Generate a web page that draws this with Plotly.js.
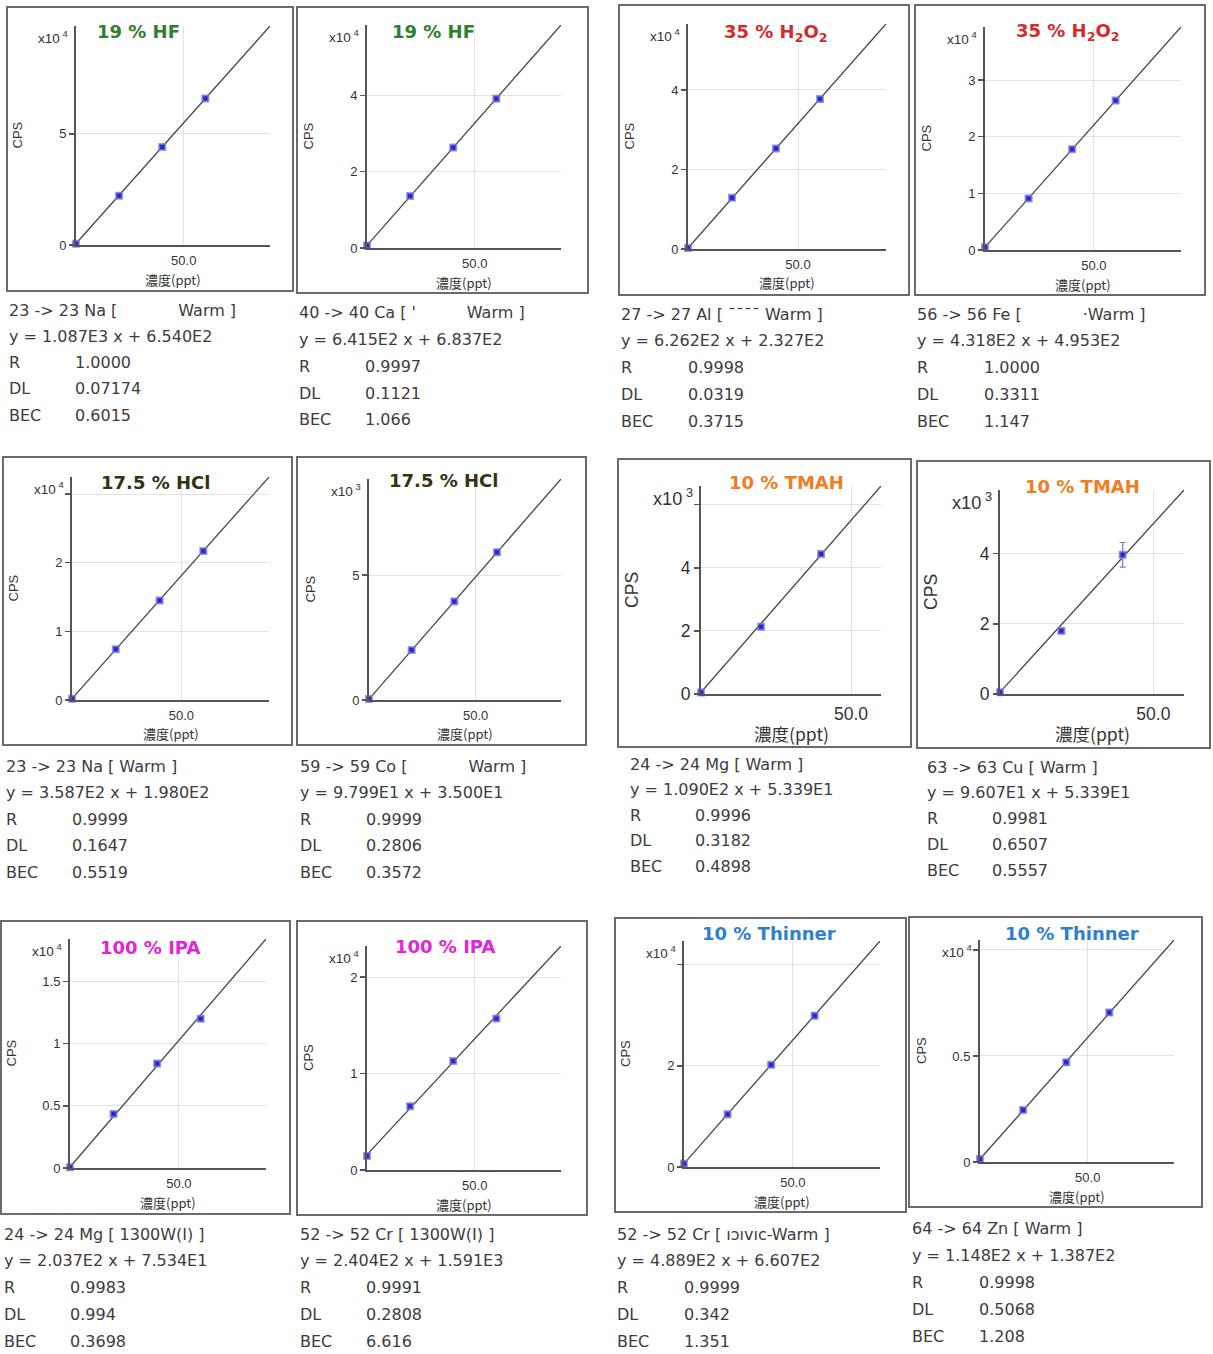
<!DOCTYPE html>
<html><head><meta charset="utf-8">
<script src="https://cdn.plot.ly/plotly-3.0.1.min.js"></script>
<style>html,body{margin:0;padding:0;background:#fff;} #chart{width:1213px;height:1354px;}</style>
</head><body><div id="chart"></div><script>
// ---------------- DATA ----------------
const concentration = [0, 20, 40, 60];          // ppt
const concentrationTMAH = [0, 20, 40];          // ppt
const matrixLabels = ['19 % HF','19 % HF','35 % H<sub>2</sub>O<sub>2</sub>','35 % H<sub>2</sub>O<sub>2</sub>',
  '17.5 % HCl','17.5 % HCl','10 % TMAH','10 % TMAH','100 % IPA','100 % IPA','10 % Thinner','10 % Thinner'];
const isotopeLabels = ['23 -> 23 Na [            Warm ]', "40 -> 40 Ca [ '          Warm ]", '27 -> 27 Al [ ¯¯¯¯ Warm ]',
  '56 -> 56 Fe [            ·Warm ]', '23 -> 23 Na [ Warm ]', '59 -> 59 Co [            Warm ]',
  '24 -> 24 Mg [ Warm ]', '63 -> 63 Cu [ Warm ]', '24 -> 24 Mg [ 1300W(I) ]', '52 -> 52 Cr [ 1300W(I) ]',
  '52 -> 52 Cr [ ıɔıvıc-Warm ]', '64 -> 64 Zn [ Warm ]'];
const fitEquations = ['y = 1.087E3 x + 6.540E2','y = 6.415E2 x + 6.837E2','y = 6.262E2 x + 2.327E2','y = 4.318E2 x + 4.953E2',
  'y = 3.587E2 x + 1.980E2','y = 9.799E1 x + 3.500E1','y = 1.090E2 x + 5.339E1','y = 9.607E1 x + 5.339E1',
  'y = 2.037E2 x + 7.534E1','y = 2.404E2 x + 1.591E3','y = 4.889E2 x + 6.607E2','y = 1.148E2 x + 1.387E2'];
const fitSlope = [1087, 641.5, 626.2, 431.8, 358.7, 97.99, 109.0, 96.07, 203.7, 240.4, 488.9, 114.8];
const fitIntercept = [654.0, 683.7, 232.7, 495.3, 198.0, 35.0, 53.39, 53.39, 75.34, 1591, 660.7, 138.7];
const rValues = ['1.0000','0.9997','0.9998','1.0000','0.9999','0.9999','0.9996','0.9981','0.9983','0.9991','0.9999','0.9998'];
const dlValues = ['0.07174','0.1121','0.0319','0.3311','0.1647','0.2806','0.3182','0.6507','0.994','0.2808','0.342','0.5068'];
const becValues = ['0.6015','1.066','0.3715','1.147','0.5519','0.3572','0.4898','0.5557','0.3698','6.616','1.351','1.208'];
const xAxisMax = [90, 90, 90, 90, 90, 90, 60, 60, 90, 90, 90, 90];
const yExponent = [4, 4, 4, 4, 4, 3, 3, 3, 4, 4, 4, 4];
const yTickValues = [[0,5],[0,2,4],[0,2,4],[0,1,2,3],[0,1,2,3],[0,5],[0,2,4,6],[0,2,4],[0,0.5,1,1.5],[0,1,2],[0,2,4],[0,0.5,1]];
const yTickLabels = [['0','5'],['0','2','4'],['0','2','4'],['0','1','2','3'],['0','1','2',' '],['0','5'],['0','2','4',' '],
  ['0','2','4'],['0','0.5','1','1.5'],['0','1','2'],['0','2',' '],['0','0.5',' ']];
// measured CPS per panel
const cpsNaHF   = [600, 22200, 44100, 65900];
const cpsCaHF   = [680, 13600, 26300, 39100];
const cpsAlH2O2 = [230, 12900, 25300, 37700];
const cpsFeH2O2 = [500, 9100, 17800, 26400];
const cpsNaHCl  = [200, 7400, 14500, 21700];
const cpsCoHCl  = [40, 2000, 3950, 5920];
const cpsMgTMAH = [50, 2130, 4440];
const cpsCuTMAH = [50, 1800, 3970];
const cpsMgIPA  = [60, 4350, 8400, 12000];
const cpsCrIPA  = [1460, 6600, 11300, 15700];
const cpsCrThin = [660, 10400, 20200, 29900];
const cpsZnThin = [140, 2450, 4700, 7050];
// standard deviations (error bars)
const sdNaHF   = [300, 500, 600, 700];
const sdCaHF   = [300, 400, 500, 500];
const sdAlH2O2 = [200, 400, 400, 500];
const sdFeH2O2 = [150, 300, 300, 350];
const sdNaHCl  = [100, 200, 250, 250];
const sdCoHCl  = [40, 90, 100, 100];
const sdMgTMAH = [30, 60, 80];
const sdCuTMAH = [30, 60, 350];
const sdMgIPA  = [50, 120, 150, 150];
const sdCrIPA  = [100, 150, 200, 200];
const sdCrThin = [300, 500, 500, 600];
const sdZnThin = [60, 100, 120, 130];

const panelCps = [cpsNaHF, cpsCaHF, cpsAlH2O2, cpsFeH2O2, cpsNaHCl, cpsCoHCl, cpsMgTMAH, cpsCuTMAH, cpsMgIPA, cpsCrIPA, cpsCrThin, cpsZnThin];
const panelSd  = [sdNaHF, sdCaHF, sdAlH2O2, sdFeH2O2, sdNaHCl, sdCoHCl, sdMgTMAH, sdCuTMAH, sdMgIPA, sdCrIPA, sdCrThin, sdZnThin];
const panelConc = [concentration, concentration, concentration, concentration, concentration, concentration,
  concentrationTMAH, concentrationTMAH, concentration, concentration, concentration, concentration];

// ---------------- GEOMETRY / STYLE ----------------
const W = 1213, H = 1354;
// plot area [left, right, top, bottom] in px
const plotBoxes = [[76,270,26,245],[367,561,25,248],[688,886,24,249],[985,1181,27,250],
  [72,269,477,700],[369,561,479,700],[701,881,486,694],[1000,1184,490,694],
  [70,266,939,1168],[367,561,946,1170],[684,880,941,1167],[980,1174,940,1162]];
// frames [x0,y0,x1,y1]
const frames = [[7,7,293,291],[297,7,588,293],[619,5,909,295],[915,5,1205,295],
  [3,457,292,745],[297,457,586,745],[618,459,911,747],[917,461,1210,748],
  [1,921,290,1214],[297,921,587,1215],[615,918,906,1212],[909,917,1202,1207]];
const titlePos = [[138,32],[433,32],[776,33],[1068,32],[155,483],[443,481],[786,483],[1082,486],[150,947],[445,946],[769,933],[1072,933]];
// text block [x, valueX, firstY, step]
const textPos = [[9,75,310,26.25],[299,365,313,26.75],[621,688,314,26.75],[917,984,314,26.75],
  [6,72,766,26.5],[300,366,766,26.5],[630,695,764,25.5],[927,992,767,25.75],
  [4,70,1234,26.75],[300,366,1234,26.75],[617,684,1234,26.75],[912,979,1228,27]];
const titleColors = ['#2f7d2f','#2f7d2f','#d42a2a','#d42a2a','#333314','#333314','#f07d22','#f07d22','#e026d6','#e026d6','#2f7fcf','#2f7fcf'];
const bigScale = [1,1,1,1,1,1,1.35,1.35,1,1,1,1];

const X = p => p / W, Y = p => 1 - p / H;
const traces = [], annotations = [], shapes = [];
const layout = {width: W, height: H, margin: {l:0, r:0, t:0, b:0}, showlegend: false,
  paper_bgcolor: '#fff', plot_bgcolor: '#fff', annotations, shapes};
const tickFont = 'Liberation Sans Narrow, Liberation Sans, sans-serif';
const bodyFont = 'DejaVu Sans, Verdana, sans-serif';

for (let i = 0; i < 12; i++) {
  const n = i + 1, xa = 'x' + n, ya = 'y' + n;
  const [L, R, T, B] = plotBoxes[i];
  const s = bigScale[i];
  const scale = Math.pow(10, yExponent[i]);
  const yTop = fitSlope[i] * xAxisMax[i] + fitIntercept[i];
  // fit line
  traces.push({type: 'scatter', mode: 'lines', xaxis: xa, yaxis: ya,
    x: [0, xAxisMax[i]], y: [fitIntercept[i], yTop], line: {color: '#444', width: 1.3}, hoverinfo: 'skip'});
  // measured points
  traces.push({type: 'scatter', mode: 'markers', xaxis: xa, yaxis: ya, cliponaxis: false,
    x: panelConc[i], y: panelCps[i],
    error_y: {type: 'data', array: panelSd[i], visible: true, color: '#7777cc', thickness: 1.2, width: 3},
    marker: {symbol: 'square', size: 6, color: '#2a2ab4', line: {color: 'rgba(120,120,235,0.75)', width: 2}}});
  layout['xaxis' + n] = {domain: [X(L), X(R)], anchor: ya, range: [0, xAxisMax[i]], fixedrange: true,
    showline: true, linecolor: '#555', linewidth: 2, zeroline: false,
    showgrid: true, gridcolor: '#e3e3e3', gridwidth: 1,
    tickmode: 'array', tickvals: [50], ticktext: ['50.0'], ticks: 'outside', ticklen: 2 * s, tickcolor: 'rgba(0,0,0,0)',
    tickfont: {family: tickFont, size: 13 * s, color: '#333'}};
  layout['yaxis' + n] = {domain: [Y(B), Y(T)], anchor: xa, range: [0, yTop], fixedrange: true,
    showline: true, linecolor: '#555', linewidth: 2, zeroline: false,
    showgrid: true, gridcolor: '#e3e3e3', gridwidth: 1,
    tickmode: 'array', tickvals: yTickValues[i].map(v => v * scale), ticktext: yTickLabels[i],
    ticks: 'outside', ticklen: 5, tickcolor: '#555', tickwidth: 1.5,
    tickfont: {family: tickFont, size: 13 * s, color: '#333'}};
  // frame
  const [fx0, fy0, fx1, fy1] = frames[i];
  shapes.push({type: 'rect', xref: 'paper', yref: 'paper', x0: X(fx0), x1: X(fx1), y0: Y(fy1), y1: Y(fy0),
    line: {color: '#6b6b6b', width: 2}});
  // title
  annotations.push({xref: 'paper', yref: 'paper', x: X(titlePos[i][0]), y: Y(titlePos[i][1]), xanchor: 'center', yanchor: 'middle',
    showarrow: false, text: matrixLabels[i], font: {family: bodyFont, size: 18, color: titleColors[i], weight: 'bold'}});
  // exponent
  annotations.push({xref: 'paper', yref: 'paper', x: X(L - 6), y: Y(T + 11), xanchor: 'right', yanchor: 'middle',
    showarrow: false, text: 'x10<sup> ' + yExponent[i] + '</sup>', font: {family: tickFont, size: 13.5 * s, color: '#333'}});
  // y title
  annotations.push({xref: 'paper', yref: 'paper', x: X(L - 59 * (s > 1 ? 1.17 : 1)), y: Y((T + B) / 2), xanchor: 'center', yanchor: 'middle',
    textangle: -90, showarrow: false, text: 'CPS', font: {family: tickFont, size: 13 * s, color: '#333'}});
  // x title
  annotations.push({xref: 'paper', yref: 'paper', x: X((L + R) / 2), y: Y(B + 34 + (s > 1 ? 6 : 0)), xanchor: 'center', yanchor: 'middle',
    showarrow: false, text: '濃度(ppt)', font: {family: 'Noto Sans CJK JP, sans-serif', size: 13 * s, color: '#333'}});
  // text block
  const [tx, vx, ty, st] = textPos[i];
  const lines = [[isotopeLabels[i], null], [fitEquations[i], null], ['R', rValues[i]], ['DL', dlValues[i]], ['BEC', becValues[i]]];
  lines.forEach((ln, k) => {
    const yy = Y(ty + k * st);
    annotations.push({xref: 'paper', yref: 'paper', x: X(tx - 2), y: yy, xanchor: 'left', yanchor: 'middle', showarrow: false,
      text: ln[0].replace(/ /g, '\u00a0'), font: {family: bodyFont, size: 16, color: '#3c3c3c'}});
    if (ln[1] !== null) {
      annotations.push({xref: 'paper', yref: 'paper', x: X(vx - 2), y: yy, xanchor: 'left', yanchor: 'middle', showarrow: false,
        text: ln[1], font: {family: bodyFont, size: 16, color: '#3c3c3c'}});
    }
  });
}
Plotly.newPlot('chart', traces, layout, {staticPlot: true, displayModeBar: false});
</script></body></html>
